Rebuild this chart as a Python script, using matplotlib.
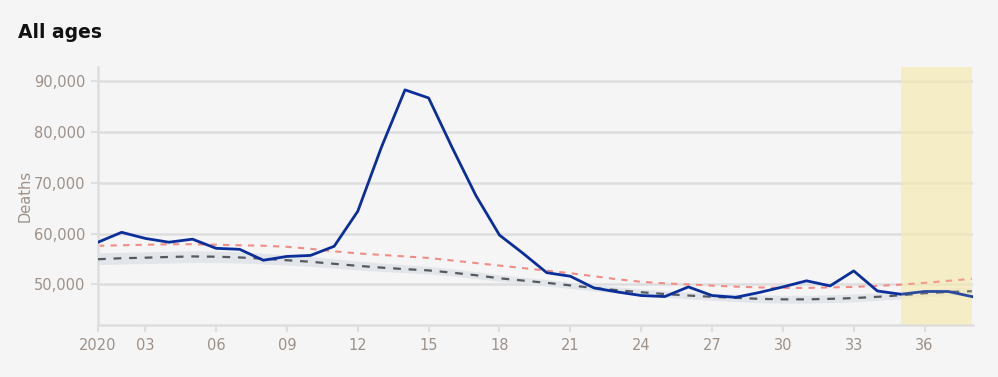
import numpy as np
import matplotlib.pyplot as plt
from matplotlib.ticker import FuncFormatter

# weekly data, 2020
weeks = list(range(1, 39))
deaths = [58300, 60250, 59050, 58300, 58900, 57100, 56900, 54750, 55500, 55700,
          57500, 64400, 77000, 88300, 86700, 76900, 67500, 59700, 56100, 52300,
          51600, 49300, 48500, 47800, 47600, 49500, 47800, 47450, 48400, 49500,
          50700, 49700, 52650, 48700, 48050, 48600, 48600, 47600]
expected = [54950, 55150, 55250, 55400, 55500, 55450, 55300, 55050, 54750, 54450,
            54050, 53650, 53300, 53000, 52750, 52300, 51800, 51200, 50750, 50300,
            49800, 49300, 48850, 48450, 48100, 47800, 47550, 47350, 47150, 47050,
            47050, 47150, 47300, 47550, 47850, 48250, 48500, 48650]
band_low = [53900, 54000, 54100, 54200, 54300, 54300, 54200, 54000, 53800, 53550,
            53200, 52850, 52550, 52300, 52050, 51650, 51150, 50600, 50150, 49700,
            49200, 48700, 48250, 47850, 47500, 47150, 46850, 46600, 46400, 46300,
            46300, 46400, 46550, 46850, 47150, 47550, 47800, 47950]
band_high = [56200, 56300, 56400, 56500, 56600, 56550, 56400, 56150, 55850, 55500,
             55050, 54600, 54200, 53850, 53550, 53050, 52500, 51900, 51400, 50950,
             50450, 49950, 49500, 49100, 48750, 48450, 48250, 48100, 47950, 47850,
             47850, 47950, 48100, 48350, 48650, 49050, 49300, 49450]
threshold = [57600, 57700, 57800, 57900, 57900, 57800, 57700, 57600, 57400, 57000,
             56500, 56100, 55800, 55500, 55200, 54700, 54200, 53700, 53200, 52700,
             52200, 51600, 51000, 50500, 50200, 50000, 49750, 49550, 49400, 49300,
             49300, 49400, 49500, 49700, 49950, 50300, 50700, 51100]
tick_weeks = [1, 3, 6, 9, 12, 15, 18, 21, 24, 27, 30, 33, 36]
tick_labels = ['2020', '03', '06', '09', '12', '15', '18', '21', '24', '27', '30', '33', '36']
highlight = (35, 38)

bg = '#f5f5f5'
tick_col = '#9c9189'
grid_col = '#dedede'

fig = plt.figure(figsize=(9.98, 3.77), dpi=100, facecolor=bg)
ax = fig.add_axes([98 / 998, 52 / 377, 875 / 998, 258 / 377], facecolor=bg)

ax.fill_between(weeks, band_low, band_high, color='#e2e6ea', lw=0, zorder=1)
ax.axvspan(*highlight, color='#f5eab0', alpha=0.6, lw=0, zorder=1.5)
ax.plot(weeks, threshold, color='#f28c86', lw=1.5, ls=(0, (3, 3)), zorder=2)
ax.plot(weeks, expected, color='#555a60', lw=1.6, ls=(0, (3.5, 3.5)), zorder=3)
ax.plot(weeks, deaths, color='#0a2f9a', lw=2, zorder=4)
# yellow wash over the lines, lighter
ax.axvspan(*highlight, color='#f5eab0', alpha=0.15, lw=0, zorder=5)

ax.set_xlim(1, 38.05)
ax.set_ylim(42000, 92800)
ax.set_yticks([50000, 60000, 70000, 80000, 90000])
ax.yaxis.set_major_formatter(FuncFormatter(lambda v, p: f'{int(v):,}'))
ax.set_xticks(tick_weeks)
ax.set_xticklabels(tick_labels)

ax.grid(axis='y', color=grid_col, lw=1.8, zorder=0)
ax.set_axisbelow(True)
for s in ['top', 'right']:
    ax.spines[s].set_visible(False)
for s in ['left', 'bottom']:
    ax.spines[s].set_color(grid_col)
    ax.spines[s].set_linewidth(1.8)
ax.tick_params(axis='both', colors=grid_col, labelcolor=tick_col, labelsize=10.5,
               length=5, width=1.5)
ax.tick_params(axis='y', pad=4)
ax.tick_params(axis='x', pad=4)

ax.set_ylabel('Deaths', color=tick_col, fontsize=10.5, labelpad=1)

fig.text(18 / 998, 1 - 33 / 377, 'All ages', fontsize=13.5, fontweight='bold',
         color='#111111', va='center', ha='left')

fig.savefig('out.png', dpi=100, facecolor=bg)
